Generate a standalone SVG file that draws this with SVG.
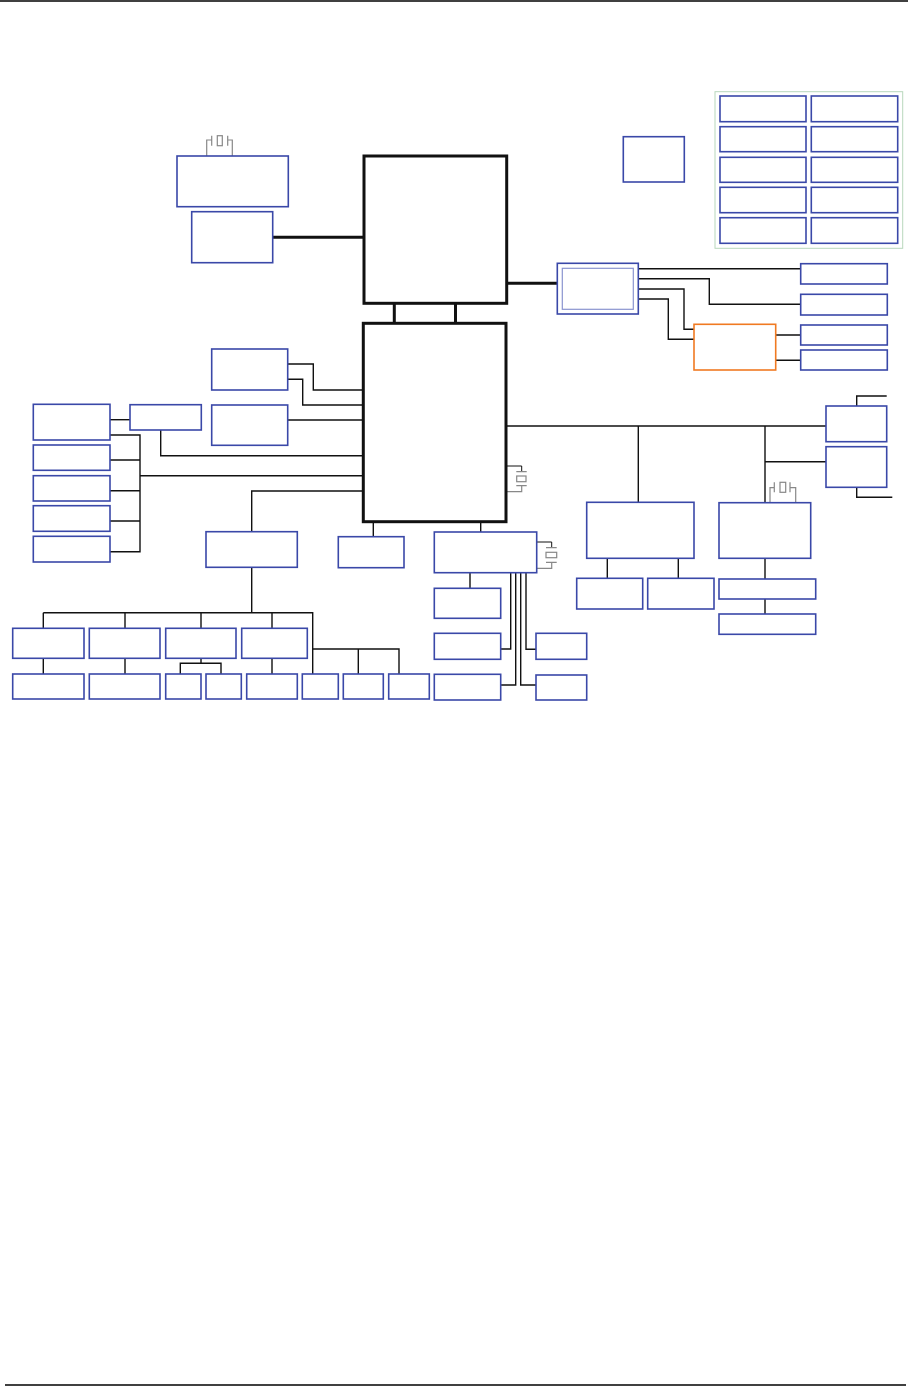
<svg xmlns="http://www.w3.org/2000/svg" width="916" height="1387" viewBox="0 0 916 1387">
<style>
.b{fill:#fff;stroke:#3a48a8;stroke-width:1.6}
.bi{fill:none;stroke:#8a94d0;stroke-width:1.2}
.o{fill:#fff;stroke:#f07a22;stroke-width:1.6}
.k{fill:#fff;stroke:#111;stroke-width:3}
.g{fill:none;stroke:#b8d8bc;stroke-width:1}
.w{fill:none;stroke:#111;stroke-width:1.4}
.t{fill:none;stroke:#111;stroke-width:3}
.x{fill:none;stroke:#888;stroke-width:1.2}
.rule{stroke:#000;stroke-width:1.4}
</style>
<rect width="916" height="1387" fill="#fff"/>
<line class="rule" x1="0" y1="1" x2="908" y2="1"/>
<line class="rule" x1="5" y1="1385" x2="906" y2="1385"/>

<g id="connectors">
  <!-- thick -->
  <path class="t" d="M272.7 237.3H364"/>
  <path class="t" d="M506.7 283.3H557.3"/>
  <path class="t" d="M394.3 303.3V323.3M455.5 303.3V323.3"/>
  <!-- U fan-out -->
  <path class="w" d="M638.3 268.7H800.7"/>
  <path class="w" d="M638.3 278.7H709.3V304.3H800.7"/>
  <path class="w" d="M638.3 289H684V329.3H694"/>
  <path class="w" d="M638.3 299H668.3V339.3H694"/>
  <path class="w" d="M775.7 335H800.7M775.7 360.3H800.7"/>
  <!-- left of chipset -->
  <path class="w" d="M287.7 364H313.3V390H363.3"/>
  <path class="w" d="M287.7 379.3H302.7V405H363.3"/>
  <path class="w" d="M287.7 420H363.3"/>
  <path class="w" d="M160.7 430V455.7H363.3"/>
  <path class="w" d="M110 419.7H130"/>
  <path class="w" d="M110 435H140V551.7H110M110 460H140M110 490.7H140M110 521H140"/>
  <path class="w" d="M140 475.7H363.3"/>
  <path class="w" d="M363.3 491H251.7V531.7"/>
  <!-- below F -->
  <path class="w" d="M251.7 567.3V612.7"/>
  <path class="w" d="M43.3 612.7H312.7V674M43.3 612.7V628.3M125 612.7V628.3M201 612.7V628.3M272 612.7V628.3"/>
  <path class="w" d="M43.3 658.3V674M125 658.3V674M272 658.3V674"/>
  <path class="w" d="M201 658.3V663.3M180.3 674V663.3H221V674"/>
  <path class="w" d="M312.7 649H399V674M358.3 649V674"/>
  <!-- below chipset -->
  <path class="w" d="M373.3 521.7V536.7M480.7 521.7V532"/>
  <path class="w" d="M470 572.7V588.3"/>
  <path class="w" d="M510.7 572.7V649H500.7"/>
  <path class="w" d="M515.7 572.7V685H500.7"/>
  <path class="w" d="M520.7 572.7V685H536"/>
  <path class="w" d="M526 572.7V649.3H536"/>
  <!-- right bus -->
  <path class="w" d="M506 426H826"/>
  <path class="w" d="M638.3 426V502.3"/>
  <path class="w" d="M607.3 558.3V578.3M678.3 558.3V578.3"/>
  <path class="w" d="M765 426V502.7M765 461.7H826"/>
  <path class="w" d="M765 558.3V579M765 599V614"/>
  <path class="w" d="M856.7 406V396H886.7"/>
  <path class="w" d="M856.7 487.3V497.3H892.3"/>
  <!-- crystals -->
  <path class="x" d="M206.7 156V140H211.7M211.7 135.7V145.7M227.7 135.7V145.7M227.7 140H232.3V156"/>
  <rect class="x" x="217.3" y="135.7" width="5" height="10"/>
  <path class="w" style="stroke-width:1" d="M506.7 466H521.7V471.7"/>
  <path class="x" d="M516.3 471.7H526.7M516.3 485.7H526.7M521.7 485.7V491.7H506.7"/>
  <rect class="x" x="516.7" y="476" width="9.3" height="5.7"/>
  <path class="w" style="stroke-width:1" d="M536.7 542H551.7V547.7"/>
  <path class="x" d="M546 547.7H556.7M546 562.3H556.7M551.7 562.3V568.3H536.7"/>
  <rect class="x" x="546" y="552.3" width="10.7" height="5.4"/>
  <path class="x" d="M770 502.7V487.7H774.3M774.3 482.3V492.3M790 482.3V492.3M790 487.7H795.7V502.7"/>
  <rect class="x" x="780" y="482.3" width="5.7" height="10"/>
</g>

<g id="cpu"><rect class="k" x="364" y="156" width="142.7" height="147.3"/></g>
<g id="chipset"><rect class="k" x="363.3" y="323.3" width="142.7" height="198.4"/></g>
<g id="clock"><rect class="b" x="177" y="156" width="111.3" height="50.7"/></g>
<g id="node-b"><rect class="b" x="191.7" y="211.7" width="81" height="51"/></g>
<g id="node-t"><rect class="b" x="623.3" y="136.7" width="61" height="45.3"/></g>
<g id="grid">
  <rect class="g" x="715" y="91.7" width="187.7" height="156.6"/>
  <rect class="b" x="720" y="96" width="86" height="25.7"/>
  <rect class="b" x="811.3" y="96" width="86.4" height="25.7"/>
  <rect class="b" x="720" y="126.7" width="86" height="25"/>
  <rect class="b" x="811.3" y="126.7" width="86.4" height="25"/>
  <rect class="b" x="720" y="157.3" width="86" height="25"/>
  <rect class="b" x="811.3" y="157.3" width="86.4" height="25"/>
  <rect class="b" x="720" y="187.3" width="86" height="25.4"/>
  <rect class="b" x="811.3" y="187.3" width="86.4" height="25.4"/>
  <rect class="b" x="720" y="217.7" width="86" height="25.6"/>
  <rect class="b" x="811.3" y="217.7" width="86.4" height="25.6"/>
</g>
<g id="node-u"><rect class="b" x="557.3" y="263.3" width="81" height="50.7"/><rect class="bi" x="562.3" y="268.3" width="71" height="41"/></g>
<g id="node-v1"><rect class="b" x="800.7" y="263.7" width="86.6" height="20.3"/></g>
<g id="node-v2"><rect class="b" x="800.7" y="294.3" width="86.6" height="20.7"/></g>
<g id="node-w"><rect class="o" x="694" y="324.3" width="81.7" height="45.7"/></g>
<g id="node-v3"><rect class="b" x="800.7" y="325" width="86.6" height="20"/></g>
<g id="node-v4"><rect class="b" x="800.7" y="350" width="86.6" height="20"/></g>
<g id="node-c1"><rect class="b" x="211.7" y="349" width="76" height="41"/></g>
<g id="node-c2"><rect class="b" x="211.7" y="405" width="76" height="40.3"/></g>
<g id="node-d"><rect class="b" x="130" y="404.7" width="71.3" height="25.3"/></g>
<g id="node-e1"><rect class="b" x="33.3" y="404.3" width="76.7" height="35.7"/></g>
<g id="node-e2"><rect class="b" x="33.3" y="445" width="76.7" height="25.3"/></g>
<g id="node-e3"><rect class="b" x="33.3" y="475.7" width="76.7" height="25.3"/></g>
<g id="node-e4"><rect class="b" x="33.3" y="505.7" width="76.7" height="25.6"/></g>
<g id="node-e5"><rect class="b" x="33.3" y="536.3" width="76.7" height="25.7"/></g>
<g id="node-f"><rect class="b" x="206" y="531.7" width="91.3" height="35.6"/></g>
<g id="node-g1"><rect class="b" x="12.7" y="628.3" width="71.3" height="30"/></g>
<g id="node-g2"><rect class="b" x="89.3" y="628.3" width="70.7" height="30"/></g>
<g id="node-g3"><rect class="b" x="165.7" y="628.3" width="70.3" height="30"/></g>
<g id="node-g4"><rect class="b" x="241.7" y="628.3" width="65.6" height="30"/></g>
<g id="node-h1"><rect class="b" x="12.7" y="674" width="71.3" height="25"/></g>
<g id="node-h2"><rect class="b" x="89.3" y="674" width="70.7" height="25"/></g>
<g id="node-h3"><rect class="b" x="165.7" y="674" width="35.3" height="25"/></g>
<g id="node-h4"><rect class="b" x="206" y="674" width="35.3" height="25"/></g>
<g id="node-h5"><rect class="b" x="246.7" y="674" width="50.6" height="25"/></g>
<g id="node-h6"><rect class="b" x="302.3" y="674" width="36" height="25"/></g>
<g id="node-h7"><rect class="b" x="343.3" y="674" width="40" height="25"/></g>
<g id="node-h8"><rect class="b" x="388.7" y="674" width="40.6" height="25"/></g>
<g id="node-sb"><rect class="b" x="338.3" y="536.7" width="65.7" height="31"/></g>
<g id="node-i"><rect class="b" x="434.3" y="532" width="102.4" height="40.7"/></g>
<g id="node-j"><rect class="b" x="434.3" y="588.3" width="66.4" height="30"/></g>
<g id="node-k"><rect class="b" x="434.3" y="633.3" width="66.4" height="26"/></g>
<g id="node-l"><rect class="b" x="434.3" y="674.3" width="66.4" height="25.7"/></g>
<g id="node-m"><rect class="b" x="536" y="633.3" width="50.7" height="26"/></g>
<g id="node-n"><rect class="b" x="536" y="675" width="50.7" height="25"/></g>
<g id="node-o"><rect class="b" x="586.7" y="502.3" width="107.3" height="56"/></g>
<g id="node-p1"><rect class="b" x="576.7" y="578.3" width="66" height="30.7"/></g>
<g id="node-p2"><rect class="b" x="647.7" y="578.3" width="66.3" height="30.7"/></g>
<g id="node-r"><rect class="b" x="719" y="502.7" width="91.7" height="55.6"/></g>
<g id="node-s1"><rect class="b" x="719" y="579" width="96.7" height="20"/></g>
<g id="node-s2"><rect class="b" x="719" y="614" width="96.7" height="20.3"/></g>
<g id="node-q1"><rect class="b" x="826" y="406" width="60.7" height="35.7"/></g>
<g id="node-q2"><rect class="b" x="826" y="446.7" width="60.7" height="40.6"/></g>
</svg>
